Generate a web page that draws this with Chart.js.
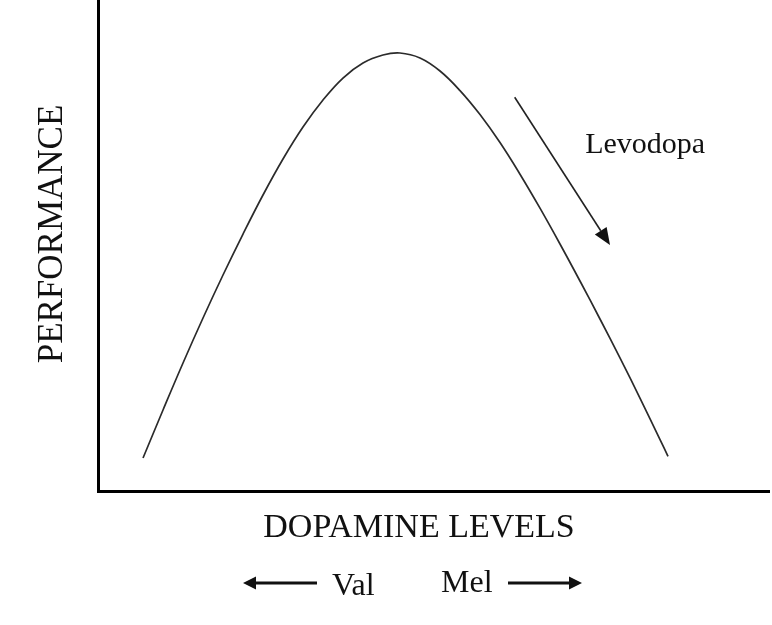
<!DOCTYPE html>
<html>
<head>
<meta charset="utf-8">
<script src="https://cdn.jsdelivr.net/npm/chart.js@4/dist/chart.umd.min.js"></script>
<style>
  html, body { margin: 0; padding: 0; background: #ffffff; }
  #wrap { width: 772px; height: 625px; position: relative; }
</style>
</head>
<body>
<div id="wrap"><canvas id="c" width="772" height="625"></canvas></div>
<script>
// ---- data ----
const dopamineLevels = [6.71, 9.69, 12.67, 15.65, 18.63, 21.61, 24.59, 27.57, 30.55, 33.53, 36.51, 39.49, 42.47, 45.01,
                        47.99, 50.97, 53.95, 56.93, 59.91, 62.89, 65.87, 68.85, 71.83, 74.81, 77.79, 80.77, 83.76, 84.95];
const performance    = [6.72, 16.50, 26.07, 35.23, 43.99, 52.34, 60.29, 67.62, 74.13, 79.63, 84.11, 87.17, 88.80, 89.21,
                        88.19, 85.54, 81.55, 76.66, 70.96, 64.52, 57.60, 50.31, 42.77, 35.03, 27.09, 18.94, 10.47, 7.05];
const xTitle = 'DOPAMINE LEVELS';
const yTitle = 'PERFORMANCE';
const arrowLabel = 'Levodopa';
const arrowX = [62.1, 76.3];   // start, tip (data units)
const arrowY = [80.2, 50.1];
const leftLabel = 'Val';
const rightLabel = 'Mel';

const SERIF = '"Liberation Serif", "Times New Roman", serif';

const annotations = {
  id: 'annotations',
  afterDraw(chart) {
    const ctx = chart.ctx;
    const xs = chart.scales.x, ys = chart.scales.y;
    ctx.save();
    ctx.fillStyle = '#111';
    ctx.strokeStyle = '#222';

    // Levodopa arrow
    const x0 = xs.getPixelForValue(arrowX[0]), y0 = ys.getPixelForValue(arrowY[0]);
    const x1 = xs.getPixelForValue(arrowX[1]), y1 = ys.getPixelForValue(arrowY[1]);
    const ang = Math.atan2(y1 - y0, x1 - x0);
    const hl = 17, hw = 7;
    const bx = x1 - hl * Math.cos(ang), by = y1 - hl * Math.sin(ang);
    ctx.lineWidth = 1.6;
    ctx.beginPath(); ctx.moveTo(x0, y0); ctx.lineTo(bx, by); ctx.stroke();
    ctx.beginPath();
    ctx.moveTo(x1, y1);
    ctx.lineTo(bx + hw * Math.sin(ang), by - hw * Math.cos(ang));
    ctx.lineTo(bx - hw * Math.sin(ang), by + hw * Math.cos(ang));
    ctx.closePath(); ctx.fill();

    // Levodopa label
    ctx.font = '30px ' + SERIF;
    ctx.textAlign = 'left'; ctx.textBaseline = 'alphabetic';
    ctx.fillText(arrowLabel, xs.getPixelForValue(72.6), 153);

    // X axis title
    ctx.font = '34px ' + SERIF;
    ctx.textAlign = 'center';
    ctx.fillText(xTitle, 419, 537);

    // Y axis title
    ctx.save();
    ctx.translate(62, 234);
    ctx.rotate(-Math.PI / 2);
    ctx.font = '35px ' + SERIF;
    ctx.textAlign = 'center';
    ctx.fillText(yTitle, 0, 0);
    ctx.restore();

    // Val / Mel labels
    ctx.font = '32px ' + SERIF;
    ctx.textAlign = 'left';
    ctx.fillText(leftLabel, 332, 595);
    ctx.fillText(rightLabel, 441, 592);

    // Horizontal arrows
    function hArrow(xa, xb, y) {
      const dir = Math.sign(xb - xa);
      const hlen = 13, hh = 6.5;
      ctx.lineWidth = 3;
      ctx.strokeStyle = '#111';
      ctx.beginPath(); ctx.moveTo(xa, y); ctx.lineTo(xb - dir * hlen, y); ctx.stroke();
      ctx.beginPath();
      ctx.moveTo(xb, y);
      ctx.lineTo(xb - dir * hlen, y - hh);
      ctx.lineTo(xb - dir * hlen, y + hh);
      ctx.closePath(); ctx.fill();
    }
    hArrow(317, 243, 583);
    hArrow(508, 582, 583);
    ctx.restore();
  }
};

new Chart(document.getElementById('c'), {
  type: 'scatter',
  data: {
    datasets: [{
      data: dopamineLevels.map((v, i) => ({ x: v, y: performance[i] })),
      showLine: true,
      borderColor: '#2b2b2b',
      borderWidth: 1.7,
      pointRadius: 0,
      tension: 0.4,
      fill: false
    }]
  },
  options: {
    responsive: false,
    animation: false,
    events: [],
    layout: { padding: { left: 98, right: 3, top: 0, bottom: 134 } },
    plugins: { legend: { display: false }, tooltip: { enabled: false } },
    scales: {
      x: {
        type: 'linear', min: 0, max: 100,
        grid: { display: false, drawTicks: false },
        ticks: { display: false },
        border: { display: true, color: '#000', width: 3 },
        title: { display: false, text: xTitle }
      },
      y: {
        type: 'linear', min: 0, max: 100,
        grid: { display: false, drawTicks: false },
        ticks: { display: false },
        border: { display: true, color: '#000', width: 3 },
        title: { display: false, text: yTitle }
      }
    }
  },
  plugins: [annotations]
});
</script>
</body>
</html>
